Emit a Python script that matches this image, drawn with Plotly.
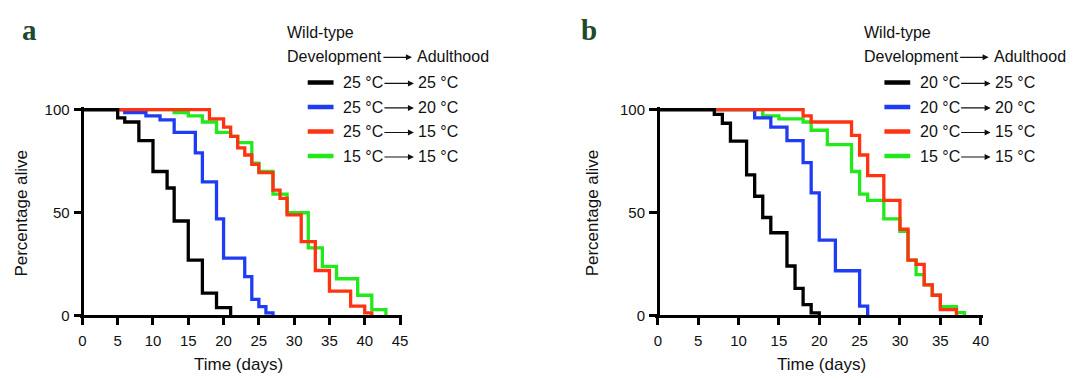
import plotly.graph_objects as go

W, H = 1079, 380

# ---- Panel a: development / adulthood temperatures (days, % alive) ----
a_black_t = [0, 5, 6, 8, 10, 12, 13, 15, 17, 19, 21]
a_black_s = [100, 96, 94, 85, 70, 62, 46, 27, 11, 4, 0]
a_blue_t = [0, 6, 9, 11, 13, 16, 17, 19, 20, 23, 24, 25, 26, 27]
a_blue_s = [100, 98.5, 97, 95, 89, 79, 65, 47, 28, 19, 8, 4.5, 1.5, 0]
a_red_t = [0, 18, 20, 21, 22, 23, 24, 25, 27, 28, 29, 31, 33, 35, 38, 40, 41]
a_red_s = [100, 95.5, 91.5, 87, 81.5, 78, 73.5, 69.5, 61, 57, 49, 36, 22, 12, 4.7, 1.5, 0]
a_green_t = [0, 13, 15, 17, 19, 21, 22, 24, 25, 27, 29, 32, 34, 36, 39, 41, 43]
a_green_s = [100, 98.5, 97, 94, 89, 87, 84, 74, 70, 59, 50, 33, 24, 18, 10, 3, 0]
a_labels = [("25 °C", "25 °C"), ("25 °C", "20 °C"), ("25 °C", "15 °C"), ("15 °C", "15 °C")]

# ---- Panel b ----
b_black_t = [0, 7, 8, 9, 11, 12, 13, 14, 16, 17, 18, 19, 20]
b_black_s = [100, 97.7, 93.4, 84.7, 68.4, 58, 47.7, 40.3, 24.2, 13.3, 5.5, 1.5, 0]
b_blue_t = [0, 12, 14, 16, 18, 19, 20, 22, 25, 26]
b_blue_s = [100, 96, 91.5, 85, 74.3, 59.6, 36.7, 21.9, 4.7, 0]
b_red_t = [0, 18, 19, 24, 25, 26, 28, 30, 31, 32, 33, 34, 35, 37]
b_red_s = [100, 97, 94, 87.5, 78, 68, 56, 42, 27, 25, 15, 10, 3, 0]
b_green_t = [0, 13, 15, 18, 19, 21, 24, 25, 26, 28, 30, 31, 32, 33, 34, 35, 37, 38]
b_green_s = [100, 97, 95.5, 94, 90, 83, 70, 59, 56, 47, 41, 27, 20, 15, 10, 4.5, 1.6, 0]
b_labels = [("20 °C", "25 °C"), ("20 °C", "20 °C"), ("20 °C", "15 °C"), ("15 °C", "15 °C")]

COLORS = {"black": "#000000", "blue": "#1f3cf5", "red": "#ff3311", "green": "#22e81c"}
FONT = "Liberation Sans, Arial, sans-serif"

fig = go.Figure()


def px(x):
    return x / W


def py(y):
    return 1 - y / H


def label(x, y, text, size=16, xanchor="left", **kw):
    fig.add_annotation(x=px(x), y=py(y), xref="paper", yref="paper", text=text,
                       showarrow=False, xanchor=xanchor, yanchor="middle",
                       font=kw.pop("font", dict(family=FONT, size=size, color="#111")), **kw)


def arrow(x_head, y, length):
    fig.add_annotation(x=px(x_head), y=py(y), xref="paper", yref="paper", text="",
                       showarrow=True, ax=-length, ay=0, arrowhead=2, arrowsize=1,
                       arrowwidth=1.2, arrowcolor="#111", standoff=0, startstandoff=0)


def add_panel(idx, x0, x1, xmax, series, labels, letter, letter_x, ytitle_x, xtitle_x, leg_x):
    """One survival panel. x0/x1: pixel of day 0 and xmax; y spans 320 (0%) to 107 (100%)."""
    xa = "x" if idx == 1 else f"x{idx}"
    ya = "y" if idx == 1 else f"y{idx}"
    ppd = (x1 - x0) / xmax
    y0, y100 = 320, 107
    ppu = (y0 - y100) / 100
    xpad, ypad = 0.3, 1.2
    xdom = [px(x0 - xpad * ppd), px(x1 + xpad * ppd)]
    ydom = [py(y0 + ypad * ppu), py(y100 - ypad * ppu)]
    axis_common = dict(showgrid=False, zeroline=False, showline=True, linecolor="black",
                       linewidth=2.6, ticks="outside", tickwidth=2.6,
                       tickcolor="black", tickfont=dict(family=FONT, size=15, color="#111"))
    fig.update_layout(**{
        ("xaxis" if idx == 1 else f"xaxis{idx}"): dict(
            domain=xdom, range=[-xpad, xmax + xpad], anchor="free", position=py(y0),
            tickvals=list(range(0, xmax + 1, 5)), ticklen=7, ticklabelstandoff=3,
            **axis_common),
        ("yaxis" if idx == 1 else f"yaxis{idx}"): dict(
            domain=ydom, range=[-ypad, 100 + ypad], anchor="free", position=px(x0),
            tickvals=[0, 50, 100], ticklen=8, ticklabelstandoff=1, **axis_common),
    })
    # draw order: green under blue under red under black
    for key in ["green", "blue", "red", "black"]:
        t, s = series[key]
        fig.add_trace(go.Scatter(x=t, y=s, mode="lines", line_shape="hv",
                                 line=dict(color=COLORS[key], width=3.3),
                                 xaxis=xa, yaxis=ya, showlegend=False, hoverinfo="skip"))

    # axis titles
    label(ytitle_x, (y0 + y100) / 2, "Percentage alive", size=17, xanchor="center",
          textangle=-90)
    label(xtitle_x, 370, "Time (days)", size=17, xanchor="center")

    # panel letter
    label(letter_x, 25, f"<b>{letter}</b>",
          font=dict(family="Liberation Serif, DejaVu Serif, serif", size=29, color="#1c4a2a"))

    # legend block
    label(leg_x, 27, "Wild-type")
    label(leg_x, 52, "Development")
    arrow(leg_x + 128, 53, 30)
    label(leg_x + 131, 52, "Adulthood")
    for i, (key, (dev, adult)) in enumerate(zip(["black", "blue", "red", "green"], labels)):
        yy = 79 + i * 25.3
        fig.add_shape(type="line", xref="paper", yref="paper",
                      x0=px(leg_x + 23), x1=px(leg_x + 49), y0=py(yy), y1=py(yy),
                      line=dict(color=COLORS[key], width=4.5))
        label(leg_x + 57, yy, dev)
        arrow(leg_x + 130, yy + 1, 31)
        label(leg_x + 132, yy, adult)


add_panel(1, 81, 401, 45,
          {"black": (a_black_t, a_black_s), "blue": (a_blue_t, a_blue_s),
           "red": (a_red_t, a_red_s), "green": (a_green_t, a_green_s)},
          a_labels, "a", 18, 20, 238, 285)
add_panel(2, 660.7, 986, 40,
          {"black": (b_black_t, b_black_s), "blue": (b_blue_t, b_blue_s),
           "red": (b_red_t, b_red_s), "green": (b_green_t, b_green_s)},
          b_labels, "b", 581, 595, 826, 866)

fig.update_layout(width=W, height=H, margin=dict(l=0, r=0, t=0, b=0),
                  paper_bgcolor="white", plot_bgcolor="rgba(0,0,0,0)", showlegend=False)

fig.write_html("out.html")
